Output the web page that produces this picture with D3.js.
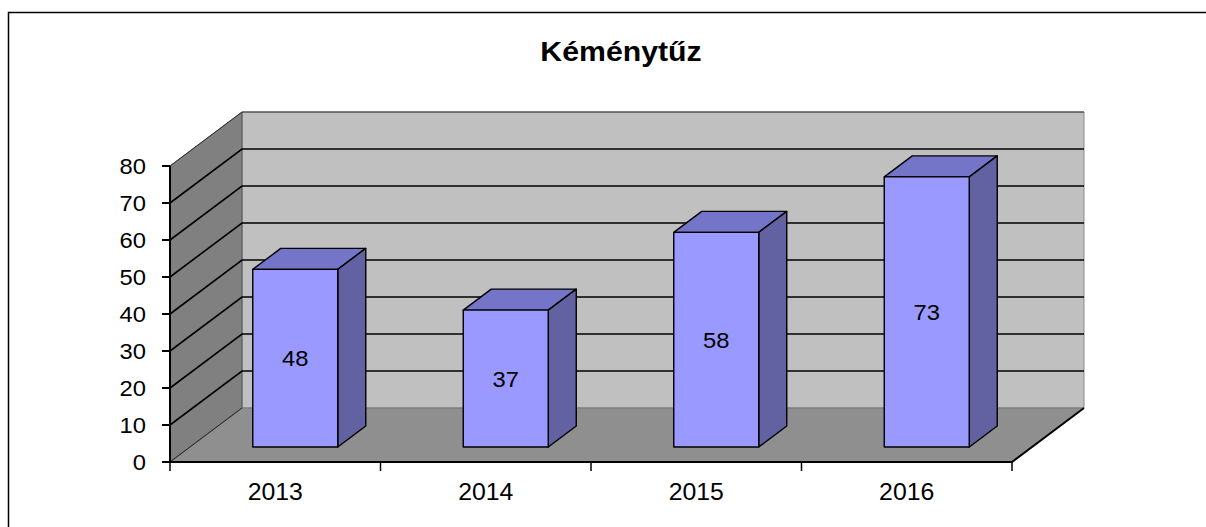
<!DOCTYPE html>
<html>
<head>
<meta charset="utf-8">
<script src="https://cdn.jsdelivr.net/npm/d3@7"></script>
<style>
  body { margin: 0; background: #fff; }
  text { font-family: "Liberation Sans", Arial, sans-serif; }
</style>
</head>
<body>
<svg id="chart" width="1206" height="527"></svg>
<script>
// chart data
const title = "Kéménytűz"
const years = ["2013", "2014", "2015", "2016"]
const counts = [48, 37, 58, 73]
const yTicks = [0, 10, 20, 30, 40, 50, 60, 70, 80]

const svg = d3.select("#chart")

// front plane of the 3d box
const x = d3.scaleBand().domain(years).range([170, 1012])
const y = d3.scaleLinear().domain([0, 80]).range([462, 166])
// oblique depth offset for depth fraction d (0 = front, 1 = back)
const DX = 72, DY = -54
const off = d => [DX * d, DY * d]
const line = d3.line()

function poly(pts, fill, stroke, sw) {
  svg.append("path")
    .attr("d", line(pts) + "Z")
    .attr("fill", fill)
    .attr("stroke", stroke)
    .attr("stroke-width", sw)
    .attr("stroke-linejoin", "round")
}

// stretch text a little sideways, like the original raster
function stretch(sel, cx, k) {
  sel.attr("transform", `translate(${cx},0) scale(${k},1) translate(${-cx},0)`)
}

// outer border (runs off the page on right and bottom)
svg.append("rect")
  .attr("x", 8.5).attr("y", 12.5)
  .attr("width", 1300).attr("height", 600)
  .attr("fill", "none").attr("stroke", "#000").attr("stroke-width", 1.5)

svg.append("text")
  .attr("x", 621).attr("y", 61)
  .attr("text-anchor", "middle")
  .attr("font-size", 27).attr("font-weight", "bold")
  .call(stretch, 621, 1.12)
  .text(title)

const x0 = x.range()[0], x1 = x.range()[1]
const yb = y(0), yt = y(80)

// back wall
poly([[x0 + DX, yb + DY], [x1 + DX, yb + DY], [x1 + DX, yt + DY], [x0 + DX, yt + DY]], "#c0c0c0", "#8a8a8a", 1)
// left wall
poly([[x0, yb], [x0 + DX, yb + DY], [x0 + DX, yt + DY], [x0, yt]], "#808080", "#555", 1)
// floor
poly([[x0, yb], [x1, yb], [x1 + DX, yb + DY], [x0 + DX, yb + DY]], "#8f8f8f", "#777", 1)

// gridlines on back and left walls
yTicks.forEach(v => {
  if (v === 0) return
  svg.append("path")
    .attr("d", line([[x0, y(v)], [x0 + DX, y(v) + DY], [x1 + DX, y(v) + DY]]))
    .attr("fill", "none")
    .attr("stroke", v === 80 ? "#333" : "#000")
    .attr("stroke-width", v === 80 ? 1 : 1.6)
})
// floor back-left edge
svg.append("path")
  .attr("d", line([[x0, yb], [x0 + DX, yb + DY]]))
  .attr("stroke", "#222").attr("stroke-width", 1)

// bars
const barW = 85
const dFront = 15 / 54, dBack = 36 / 54
years.forEach((yr, i) => {
  const v = counts[i]
  const [fx, fy] = off(dFront)
  const [bx, by] = off(dBack)
  const l = x(yr) + (x.bandwidth() - barW) / 2 + fx
  const r = l + barW
  const top = y(v) + fy, bot = y(0) + fy
  const ddx = bx - fx, ddy = by - fy
  // top face
  poly([[l, top], [r, top], [r + ddx, top + ddy], [l + ddx, top + ddy]], "#7474c8", "#000", 1.4)
  // side face
  poly([[r, top], [r + ddx, top + ddy], [r + ddx, bot + ddy], [r, bot]], "#6262a3", "#000", 1.4)
  // front face
  poly([[l, top], [r, top], [r, bot], [l, bot]], "#9999ff", "#000", 1.4)
  svg.append("text")
    .attr("x", (l + r) / 2).attr("y", (top + bot) / 2 + 8)
    .attr("text-anchor", "middle")
    .attr("font-size", 22)
    .call(stretch, (l + r) / 2, 1.08)
    .text(v)
})

// axes: front edge lines
svg.append("path")
  .attr("d", line([[x0, yt], [x0, yb], [x1, yb], [x1 + DX, yb + DY]]))
  .attr("fill", "none").attr("stroke", "#000").attr("stroke-width", 2)

// y ticks and labels
yTicks.forEach(v => {
  svg.append("line")
    .attr("x1", x0 - 8).attr("x2", x0)
    .attr("y1", y(v)).attr("y2", y(v))
    .attr("stroke", "#000").attr("stroke-width", 2)
  svg.append("text")
    .attr("x", 146).attr("y", y(v) + 8)
    .attr("text-anchor", "end")
    .attr("font-size", 22)
    .call(stretch, 146, 1.08)
    .text(v)
})

// x ticks at band edges and labels
const edges = years.map(d => x(d)).concat([x1])
edges.forEach(ex => {
  svg.append("line")
    .attr("x1", ex).attr("x2", ex)
    .attr("y1", yb).attr("y2", yb + 9)
    .attr("stroke", "#000").attr("stroke-width", 1.5)
})
years.forEach(yr => {
  const cx = x(yr) + x.bandwidth() / 2
  svg.append("text")
    .attr("x", cx).attr("y", 500)
    .attr("text-anchor", "middle")
    .attr("font-size", 23)
    .call(stretch, cx, 1.08)
    .text(yr)
})
</script>
</body>
</html>
